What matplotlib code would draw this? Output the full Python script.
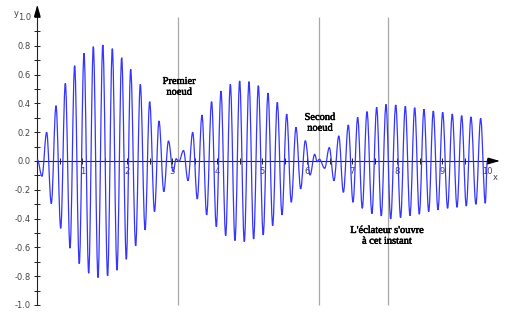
import numpy as np
import matplotlib
matplotlib.use("Agg")
import matplotlib.pyplot as plt
import matplotlib.patheffects as pe
from matplotlib.path import Path
from matplotlib.patches import PathPatch

# extrema of the oscillation (x, y)
ext_x = [0.000, 0.104, 0.208, 0.311, 0.416, 0.520, 0.623, 0.727, 0.830, 0.932,
         1.038, 1.142, 1.245, 1.349, 1.456, 1.562, 1.667, 1.771, 1.875, 1.978,
         2.075, 2.186, 2.289, 2.395, 2.497, 2.605, 2.704, 2.812, 2.915, 3.020,
         3.085, 3.145,
         3.250, 3.349, 3.453, 3.555, 3.660, 3.764, 3.873, 3.978,
         4.082, 4.186, 4.290, 4.393, 4.497, 4.600, 4.704, 4.808, 4.912, 5.020,
         5.127, 5.231, 5.333, 5.438, 5.542, 5.644, 5.749, 5.853, 5.956, 6.062,
         6.164, 6.220, 6.268,
         6.387, 6.489, 6.593, 6.700, 6.802, 6.911, 7.016, 7.120, 7.222, 7.327,
         7.436, 7.542, 7.644, 7.749, 7.853, 7.966, 8.073, 8.178,
         8.282, 8.387, 8.489, 8.593, 8.698, 8.800, 8.904, 9.009, 9.118, 9.222,
         9.327, 9.431, 9.533, 9.638, 9.747, 9.853, 9.956, 10.0]
ext_y = [0.010, -0.106, 0.199, -0.296, 0.384, -0.468, 0.539, -0.606, 0.662, -0.713,
         0.748, -0.780, 0.794, -0.810, 0.806, -0.799, 0.780, -0.759, 0.717, -0.683,
         0.637, -0.590, 0.532, -0.479, 0.412, -0.352, 0.278, -0.213, 0.139, -0.074,
         0.015, -0.004,
         0.072, -0.137, 0.199, -0.264, 0.319, -0.375, 0.412, -0.456,
         0.486, -0.519, 0.532, -0.553, 0.556, -0.560, 0.551, -0.542, 0.523, -0.514,
         0.472, -0.449, 0.407, -0.375, 0.326, -0.287, 0.234, -0.194, 0.141, -0.097,
         0.046, -0.005, 0.012,
         -0.051, 0.093, -0.137, 0.174, -0.218, 0.250, -0.287, 0.303, -0.329, 0.343,
         -0.366, 0.373, -0.382, 0.393, -0.403, 0.389, -0.394, 0.380,
         -0.380, 0.370, -0.370, 0.359, -0.352, 0.347, -0.340, 0.338, -0.329, 0.326,
         -0.322, 0.315, -0.313, 0.306, -0.301, 0.296, -0.294, 0.0]

marker_x = [3.13, 6.27, 7.79]   # vertical lines
notes = ["Premier\nnoeud", "Second\nnoeud", "L'éclateur s'ouvre\nà cet instant"]
note_x = [3.15, 6.28, 7.77]
note_y = [0.515, 0.265, -0.52]

x_ticks = list(range(1, 11))
y_ticks = [-1.0, -0.8, -0.6, -0.4, -0.2, 0.0, 0.2, 0.4, 0.6, 0.8, 1.0]

fig = plt.figure(figsize=(5.06, 3.13), dpi=100)
ax = fig.add_axes([0, 0, 1, 1])
ax.set_xlim(-0.829, 10.416)
ax.set_ylim(-1.056, 1.118)

# vertical marker lines
ax.vlines(marker_x, -1.0, 1.0, color="#a8a8a8", lw=0.9, zorder=1)

# smooth curve through the extrema (horizontal tangent at each one)
k = 0.364
verts = [(ext_x[0], ext_y[0])]
codes = [Path.MOVETO]
for i in range(len(ext_x) - 1):
    x0, y0, x1, y1 = ext_x[i], ext_y[i], ext_x[i + 1], ext_y[i + 1]
    h = x1 - x0
    verts += [(x0 + k * h, y0), (x1 - k * h, y1), (x1, y1)]
    codes += [Path.CURVE4] * 3
ax.add_patch(PathPatch(Path(verts, codes), facecolor="none",
                       edgecolor="#3535ff", lw=0.9, zorder=3))

# axes through the origin
for s in ["top", "right"]:
    ax.spines[s].set_visible(False)
ax.spines["left"].set_position(("data", 0))
ax.spines["bottom"].set_position(("data", 0))
ax.spines["left"].set_bounds(-1.0, 1.02)
ax.spines["bottom"].set_bounds(0, 10.05)
for s in ["left", "bottom"]:
    ax.spines[s].set_linewidth(0.8)
    ax.spines[s].set_color("#222222")
    ax.spines[s].set_zorder(2)

ax.set_xticks(x_ticks)
ax.set_xticklabels([str(v) for v in x_ticks])
ax.set_xticks(np.arange(0.5, 10.01, 1.0), minor=True)
ax.set_yticks(y_ticks)
ax.set_yticklabels(["%.1f" % v for v in y_ticks])
ax.set_yticks(np.arange(-0.9, 1.0, 0.2), minor=True)
ax.tick_params(which="both", direction="inout", color="#222222", width=0.7,
               labelsize=6, labelcolor="#444444")
ax.tick_params(which="major", length=5, pad=2)
ax.tick_params(which="minor", length=4)

# arrow heads
arr = dict(arrowstyle="-|>,head_length=0.7,head_width=0.2", color="black",
           lw=0.8, shrinkA=0, shrinkB=0)
ax.annotate("", xy=(10.28, 0), xytext=(10.0, 0), arrowprops=arr, annotation_clip=False)
ax.annotate("", xy=(0, 1.085), xytext=(0, 1.0), arrowprops=arr, annotation_clip=False)
ax.text(10.18, -0.115, "x", fontsize=6, color="#444444", ha="center", va="center")
ax.text(-0.47, 1.025, "y", fontsize=6, color="#444444", ha="center", va="center")

for t, tx, ty in zip(notes, note_x, note_y):
    ax.text(tx, ty, t, family="Liberation Serif", fontsize=7.5, ha="center",
            va="center", linespacing=1.25, color="black", zorder=4,
            path_effects=[pe.withStroke(linewidth=0.35, foreground="black")])

fig.savefig("out.png", dpi=100)
